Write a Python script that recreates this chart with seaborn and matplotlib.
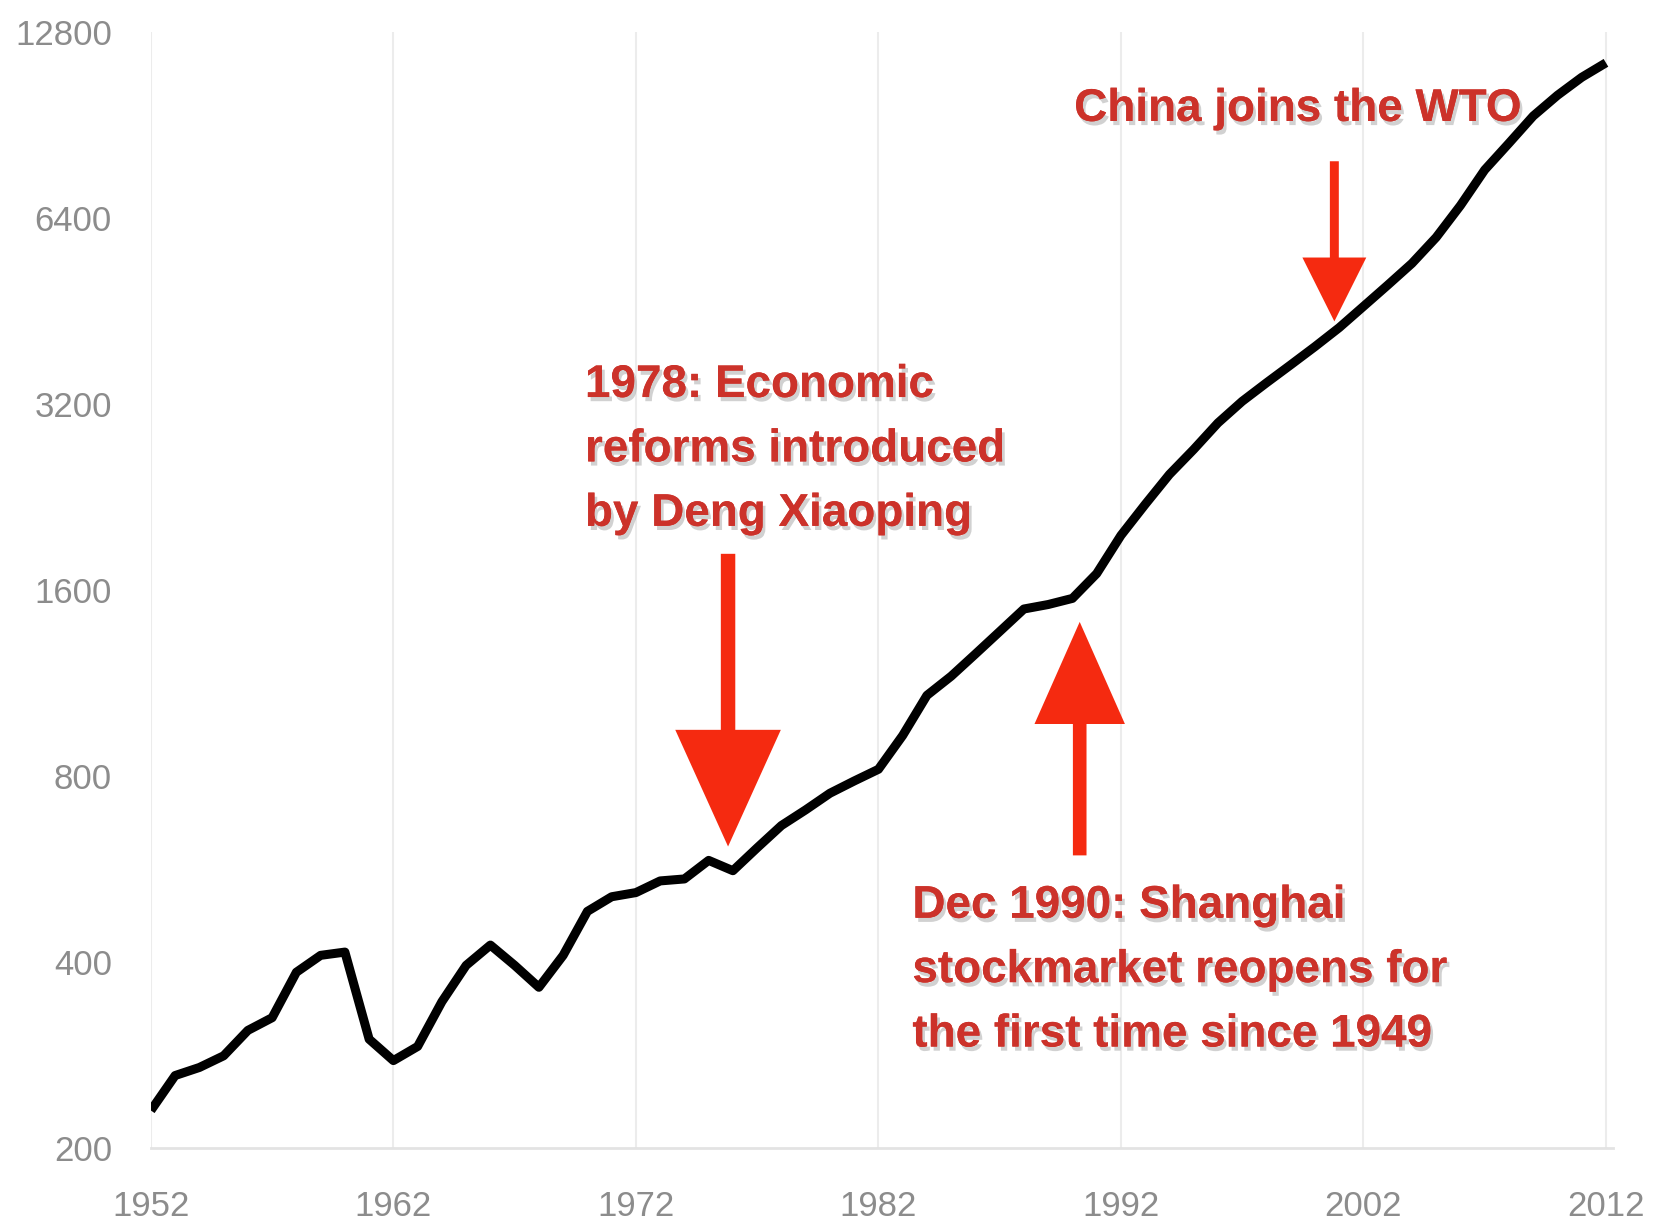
import numpy as np
import pandas as pd
import matplotlib
matplotlib.use("Agg")
import matplotlib.pyplot as plt
import matplotlib.patheffects as pe
from matplotlib.ticker import FixedLocator, NullLocator
import seaborn as sns

# GDP per capita, log scale
years = list(range(1952, 2013))
gdp = [230, 262, 270, 282, 310, 325, 385, 410, 415, 300,
       277, 292, 345, 395, 426, 395, 364, 410, 483, 510,
       518, 541, 545, 584, 562, 612, 665, 705, 750, 785,
       820, 930, 1080, 1160, 1260, 1370, 1490, 1515, 1550, 1700,
       1960, 2200, 2460, 2700, 2980, 3230, 3460, 3700, 3960, 4250,
       4600, 4980, 5400, 5950, 6700, 7650, 8450, 9350, 10100, 10800,
       11400]
xticks = [1952, 1962, 1972, 1982, 1992, 2002, 2012]
yticks = [200, 400, 800, 1600, 3200, 6400, 12800]

df = pd.DataFrame({"year": years, "gdp": gdp})

sns.set_theme(style="white")
plt.rcParams['font.family'] = ['Liberation Sans', 'DejaVu Sans']

fig = plt.figure(figsize=(16.58, 12.20), dpi=100)
ax = fig.add_axes([0.091, 0.059, 0.882, 0.915])

sns.lineplot(data=df, x="year", y="gdp", color="black", linewidth=6.5, ax=ax,
             solid_capstyle="butt", solid_joinstyle="round")

ax.set_yscale("log", base=2)
ax.set_ylim(200, 12800)
ax.set_xlim(1952, 2012.3)
ax.yaxis.set_major_locator(FixedLocator(yticks))
ax.yaxis.set_minor_locator(NullLocator())
ax.set_yticklabels([str(v) for v in yticks])
ax.set_xticks(xticks)
ax.set_xticklabels([str(v) for v in xticks])
ax.set_xlabel("")
ax.set_ylabel("")

for x in xticks:
    ax.axvline(x, color="#ececec", linewidth=1.5, zorder=0)

for s in ["top", "right", "left"]:
    ax.spines[s].set_visible(False)
ax.spines["bottom"].set_color("#e3e3e3")
ax.spines["bottom"].set_linewidth(2)

ax.tick_params(axis="both", length=0, labelsize=25, labelcolor="#8c8c8c")
ax.tick_params(axis="y", pad=28)
ax.tick_params(axis="x", pad=30)

txt_red = "#cc322a"
arr_red = "#f52a10"
shadow = [pe.withSimplePatchShadow(offset=(2, -3), shadow_rgbFace="#9a9a9a", alpha=0.45),
          pe.Normal()]
tkw = dict(fontsize=33, fontweight="bold", color=txt_red,
           linespacing=1.6, path_effects=shadow, zorder=5)

ax.text(1999.3, 9600, "China joins the WTO", ha="center", va="center", **tkw)
ax.text(1969.9, 2700, "1978: Economic\nreforms introduced\nby Deng Xiaoping",
        ha="left", va="center", **tkw)
ax.text(1983.4, 388, "Dec 1990: Shanghai\nstockmarket reopens for\nthe first time since 1949",
        ha="left", va="center", **tkw)

def arrow(x, y_tail, y_tip, scale, hw, hl, tw):
    ax.annotate("", xy=(x, y_tip), xytext=(x, y_tail),
                arrowprops=dict(arrowstyle=f"simple,head_length={hl},head_width={hw},tail_width={tw}",
                                mutation_scale=scale, color=arr_red, shrinkA=0, shrinkB=0,
                                linewidth=0),
                zorder=4)

arrow(2000.8, 7900, 4350, 46, 1.0, 1.0, 0.14)
arrow(1975.8, 1830, 615, 80, 0.95, 1.05, 0.13)
arrow(1990.3, 595, 1420, 70, 0.93, 1.05, 0.14)

fig.savefig("out.png", dpi=100, facecolor="white")
